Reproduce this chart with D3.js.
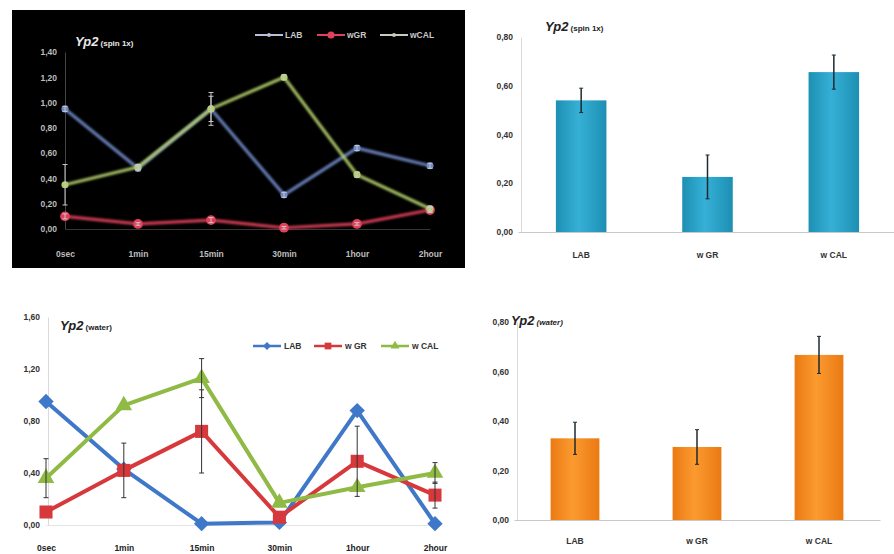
<!DOCTYPE html>
<html><head><meta charset="utf-8">
<script src="https://cdn.jsdelivr.net/npm/d3@7"></script>
<style>body{margin:0;background:#fff}svg{display:block}text{font-family:"Liberation Sans",Arial,sans-serif}</style>
</head><body>
<script>
// ---- data ----
const times = ["0sec","1min","15min","30min","1hour","2hour"];
const groups = ["LAB","w GR","w CAL"];
// spin 1x line chart
const spinLAB  = [0.95,0.48,0.95,0.27,0.64,0.50];
const spinGR   = [0.10,0.04,0.07,0.01,0.04,0.15];
const spinCAL  = [0.35,0.49,0.95,1.20,0.43,0.16];
const spinLABerr = [0.02,0.02,0.13,0.02,0.02,0.02];
const spinGRerr  = [0.02,0.01,0.02,0.01,0.01,0.02];
const spinCALerr = [0.16,0.02,0.10,0.02,0.02,0.02];
// water line chart
const waterLAB  = [0.95,0.43,0.01,0.02,0.88,0.01];
const waterGR   = [0.10,0.42,0.72,0.06,0.49,0.23];
const waterCAL  = [0.36,0.92,1.13,0.17,0.29,0.40];
const waterLABerr = [0,0,0,0,0,0];
const waterGRerr  = [0,0.21,0.32,0,0.27,0.10];
const waterCALerr = [0.15,0,0.15,0,0,0.08];
// bar charts
const spinBars = [0.54,0.226,0.656];
const spinBarsErr = [0.05,0.09,0.07];
const waterBars = [0.33,0.295,0.667];
const waterBarsErr = [0.065,0.07,0.075];
const yTicksSpin = [0,0.2,0.4,0.6,0.8,1.0,1.2,1.4];
const yTicksWater = [0,0.4,0.8,1.2,1.6];
const yTicksBar = [0,0.2,0.4,0.6,0.8];

const fmt = d => d3.format(".2f")(d).replace(".", ",");
const svg = d3.select("body").append("svg").attr("width",894).attr("height",554);

const defs = svg.append("defs");
function grad(id, edge, mid){
  const g = defs.append("linearGradient").attr("id",id).attr("x1","0").attr("x2","1").attr("y1","0").attr("y2","0");
  g.append("stop").attr("offset","0%").attr("stop-color",edge);
  g.append("stop").attr("offset","45%").attr("stop-color",mid);
  g.append("stop").attr("offset","100%").attr("stop-color",edge);
}
grad("gBlue","#1d8fb3","#36b0d6");
grad("gOrange","#ea7a12","#fb9a30");
const glow = defs.append("filter").attr("id","glow").attr("x","-20%").attr("y","-20%").attr("width","140%").attr("height","140%");
glow.append("feGaussianBlur").attr("stdDeviation","1");

function title(g, x, y, main, sub, color, italicSub){
  const t = g.append("text").attr("x",x).attr("y",y).attr("fill",color);
  t.append("tspan").text(main).attr("font-size",13).attr("font-weight","bold").attr("font-style","italic");
  t.append("tspan").text(" "+sub).attr("font-size",8).attr("font-weight","bold").attr("font-style", italicSub?"italic":"normal");
}

function yAxis(g, y, ticks, x, labelColor, lineColor){
  const ax = g.append("g").attr("transform",`translate(${x},0)`)
    .call(d3.axisLeft(y).tickValues(ticks).tickFormat(fmt).tickSize(0).tickPadding(8));
  ax.select(".domain").attr("stroke",lineColor).attr("stroke-width",0.8);
  ax.selectAll("text").attr("fill",labelColor).attr("font-size",8.5).attr("font-weight","bold").attr("font-family","Liberation Sans, Arial");
  return ax;
}
function xAxis(g, x, yPos, labelColor, lineColor, pad){
  const ax = g.append("g").attr("transform",`translate(0,${yPos})`)
    .call(d3.axisBottom(x).tickSize(0).tickPadding(pad));
  ax.select(".domain").attr("stroke",lineColor).attr("stroke-width",0.8);
  ax.selectAll("text").attr("fill",labelColor).attr("font-size",8.5).attr("font-weight","bold").attr("font-family","Liberation Sans, Arial");
  return ax;
}

function marker(g, type, cx, cy, size, color){
  const sym = {diamond:d3.symbolDiamond2, square:d3.symbolSquare, triangle:d3.symbolTriangle, circle:d3.symbolCircle}[type];
  g.append("path").attr("d", d3.symbol().type(sym).size(size)()).attr("transform",`translate(${cx},${cy})`).attr("fill",color);
}

function errBars(g, x, y, vals, errs, color, w, cap){
  vals.forEach((v,i)=>{
    const e = errs[i]; if(!e) return;
    const cx = x(times[i]);
    g.append("line").attr("x1",cx).attr("x2",cx).attr("y1",y(v+e)).attr("y2",y(Math.max(0,v-e))).attr("stroke",color).attr("stroke-width",w);
    [v+e, Math.max(0,v-e)].forEach(t=>g.append("line").attr("x1",cx-cap).attr("x2",cx+cap).attr("y1",y(t)).attr("y2",y(t)).attr("stroke",color).attr("stroke-width",w));
  });
}

// ---------- Panel 1: spin 1x line (dark) ----------
{
  const g = svg.append("g");
  g.append("rect").attr("x",12).attr("y",10).attr("width",453).attr("height",258).attr("fill","#000");
  const x = d3.scalePoint().domain(times).range([65,430]);
  const y = d3.scaleLinear().domain([0,1.4]).range([229,52]);
  yAxis(g, y, yTicksSpin, 65, "#bdbdbd", "#555");
  const xa = xAxis(g, x, 229, "#bdbdbd", "#555", 22);
  xa.select(".domain").attr("stroke","#444");
  const series = [
    {v:spinLAB, e:spinLABerr, c:"#7088c8", m:"circle", s:40},
    {v:spinGR,  e:spinGRerr,  c:"#e0405a", m:"circle", s:75},
    {v:spinCAL, e:spinCALerr, c:"#b4cf6c", m:"circle", s:40}
  ];
  const line = d3.line().x((d,i)=>x(times[i])).y(d=>y(d));
  series.forEach(s=>{
    g.append("path").datum(s.v).attr("d",line).attr("fill","none").attr("stroke",s.c).attr("stroke-width",3.2).attr("stroke-opacity",0.9).attr("filter","url(#glow)");
    s.v.forEach((d,i)=>marker(g, s.m, x(times[i]), y(d), s.s, s.c));
  });
  series.forEach(s=>errBars(g, x, y, s.v, s.e, "#c8c8c8", 1, 2.5));
  title(g, 75, 46, "Yp2", "(spin 1x)", "#e8e8e8", false);
  // legend
  const leg = [
    {t:"LAB", c:"#b8bfd6", x:255},
    {t:"wGR", c:"#e0405a", x:317},
    {t:"wCAL", c:"#c6cdb8", x:380}
  ];
  leg.forEach(l=>{
    g.append("line").attr("x1",l.x).attr("x2",l.x+28).attr("y1",35).attr("y2",35).attr("stroke",l.c).attr("stroke-width",2);
    marker(g,"circle",l.x+14,35,l.t==="wGR"?40:12,l.c);
    g.append("text").attr("x",l.x+30).attr("y",38).text(l.t).attr("fill","#c8c8c8").attr("font-size",8.5).attr("font-weight","bold");
  });
}

// ---------- Panels 2 & 4: bars ----------
function barPanel(vals, errs, xr, yr, fill, tl, sub, italicSub, labelPad){
  const g = svg.append("g");
  const x = d3.scaleBand().domain(groups).range(xr);
  const y = d3.scaleLinear().domain([0,0.8]).range(yr);
  yAxis(g, y, yTicksBar, xr[0]+3, "#333", "#d0d0d0");
  xAxis(g, x, yr[0], "#333", "#bbb", labelPad);
  const bw = x.step()*0.4;
  groups.forEach((k,i)=>{
    const cx = x(k)+x.bandwidth()/2;
    g.append("rect").attr("x",cx-bw/2).attr("y",y(vals[i])).attr("width",bw).attr("height",y(0)-y(vals[i])).attr("fill",fill);
    const e = errs[i];
    g.append("line").attr("x1",cx).attr("x2",cx).attr("y1",y(vals[i]+e)).attr("y2",y(vals[i]-e)).attr("stroke","#1e2a30").attr("stroke-width",1.5);
    [vals[i]+e, vals[i]-e].forEach(t=>g.append("line").attr("x1",cx-2).attr("x2",cx+2).attr("y1",y(t)).attr("y2",y(t)).attr("stroke","#1e2a30").attr("stroke-width",1));
  });
  title(g, tl[0], tl[1], "Yp2", sub, "#222", italicSub);
}
barPanel(spinBars, spinBarsErr, [518,897], [232,37], "url(#gBlue)", [545,31], "(spin 1x)", false, 20);
barPanel(waterBars, waterBarsErr, [514,880], [520,322], "url(#gOrange)", [511,325], "(water)", true, 18);

// ---------- Panel 3: water line ----------
{
  const g = svg.append("g");
  const x = d3.scalePoint().domain(times).range([46,435]);
  const y = d3.scaleLinear().domain([0,1.6]).range([525,317]);
  yAxis(g, y, yTicksWater, 48, "#333", "#d0d0d0");
  xAxis(g, x, 525, "#222", "#ddd", 20);
  const series = [
    {v:waterLAB, e:waterLABerr, c:"#3f78c8", m:"diamond", s:150},
    {v:waterGR,  e:waterGRerr,  c:"#d7383c", m:"square", s:170},
    {v:waterCAL, e:waterCALerr, c:"#8fba45", m:"triangle", s:120}
  ];
  const line = d3.line().x((d,i)=>x(times[i])).y(d=>y(d));
  series.forEach(s=>{
    g.append("path").datum(s.v).attr("d",line).attr("fill","none").attr("stroke",s.c).attr("stroke-width",4).attr("stroke-linejoin","round");
    s.v.forEach((d,i)=>marker(g, s.m, x(times[i]), y(d), s.s, s.c));
  });
  series.forEach(s=>errBars(g, x, y, s.v, s.e, "#333", 1, 2.5));
  title(g, 60, 330, "Yp2", "(water)", "#222", false);
  const leg = [
    {t:"LAB", c:"#3f78c8", m:"diamond", x:253, s:40},
    {t:"w GR", c:"#d7383c", m:"square", x:314, s:45},
    {t:"w CAL", c:"#8fba45", m:"triangle", x:381, s:35}
  ];
  leg.forEach(l=>{
    g.append("line").attr("x1",l.x).attr("x2",l.x+28).attr("y1",346).attr("y2",346).attr("stroke",l.c).attr("stroke-width",2.5);
    marker(g,l.m,l.x+14,346,l.s,l.c);
    g.append("text").attr("x",l.x+31).attr("y",349).text(l.t).attr("fill","#333").attr("font-size",8.5).attr("font-weight","bold");
  });
}
</script>
</body></html>
